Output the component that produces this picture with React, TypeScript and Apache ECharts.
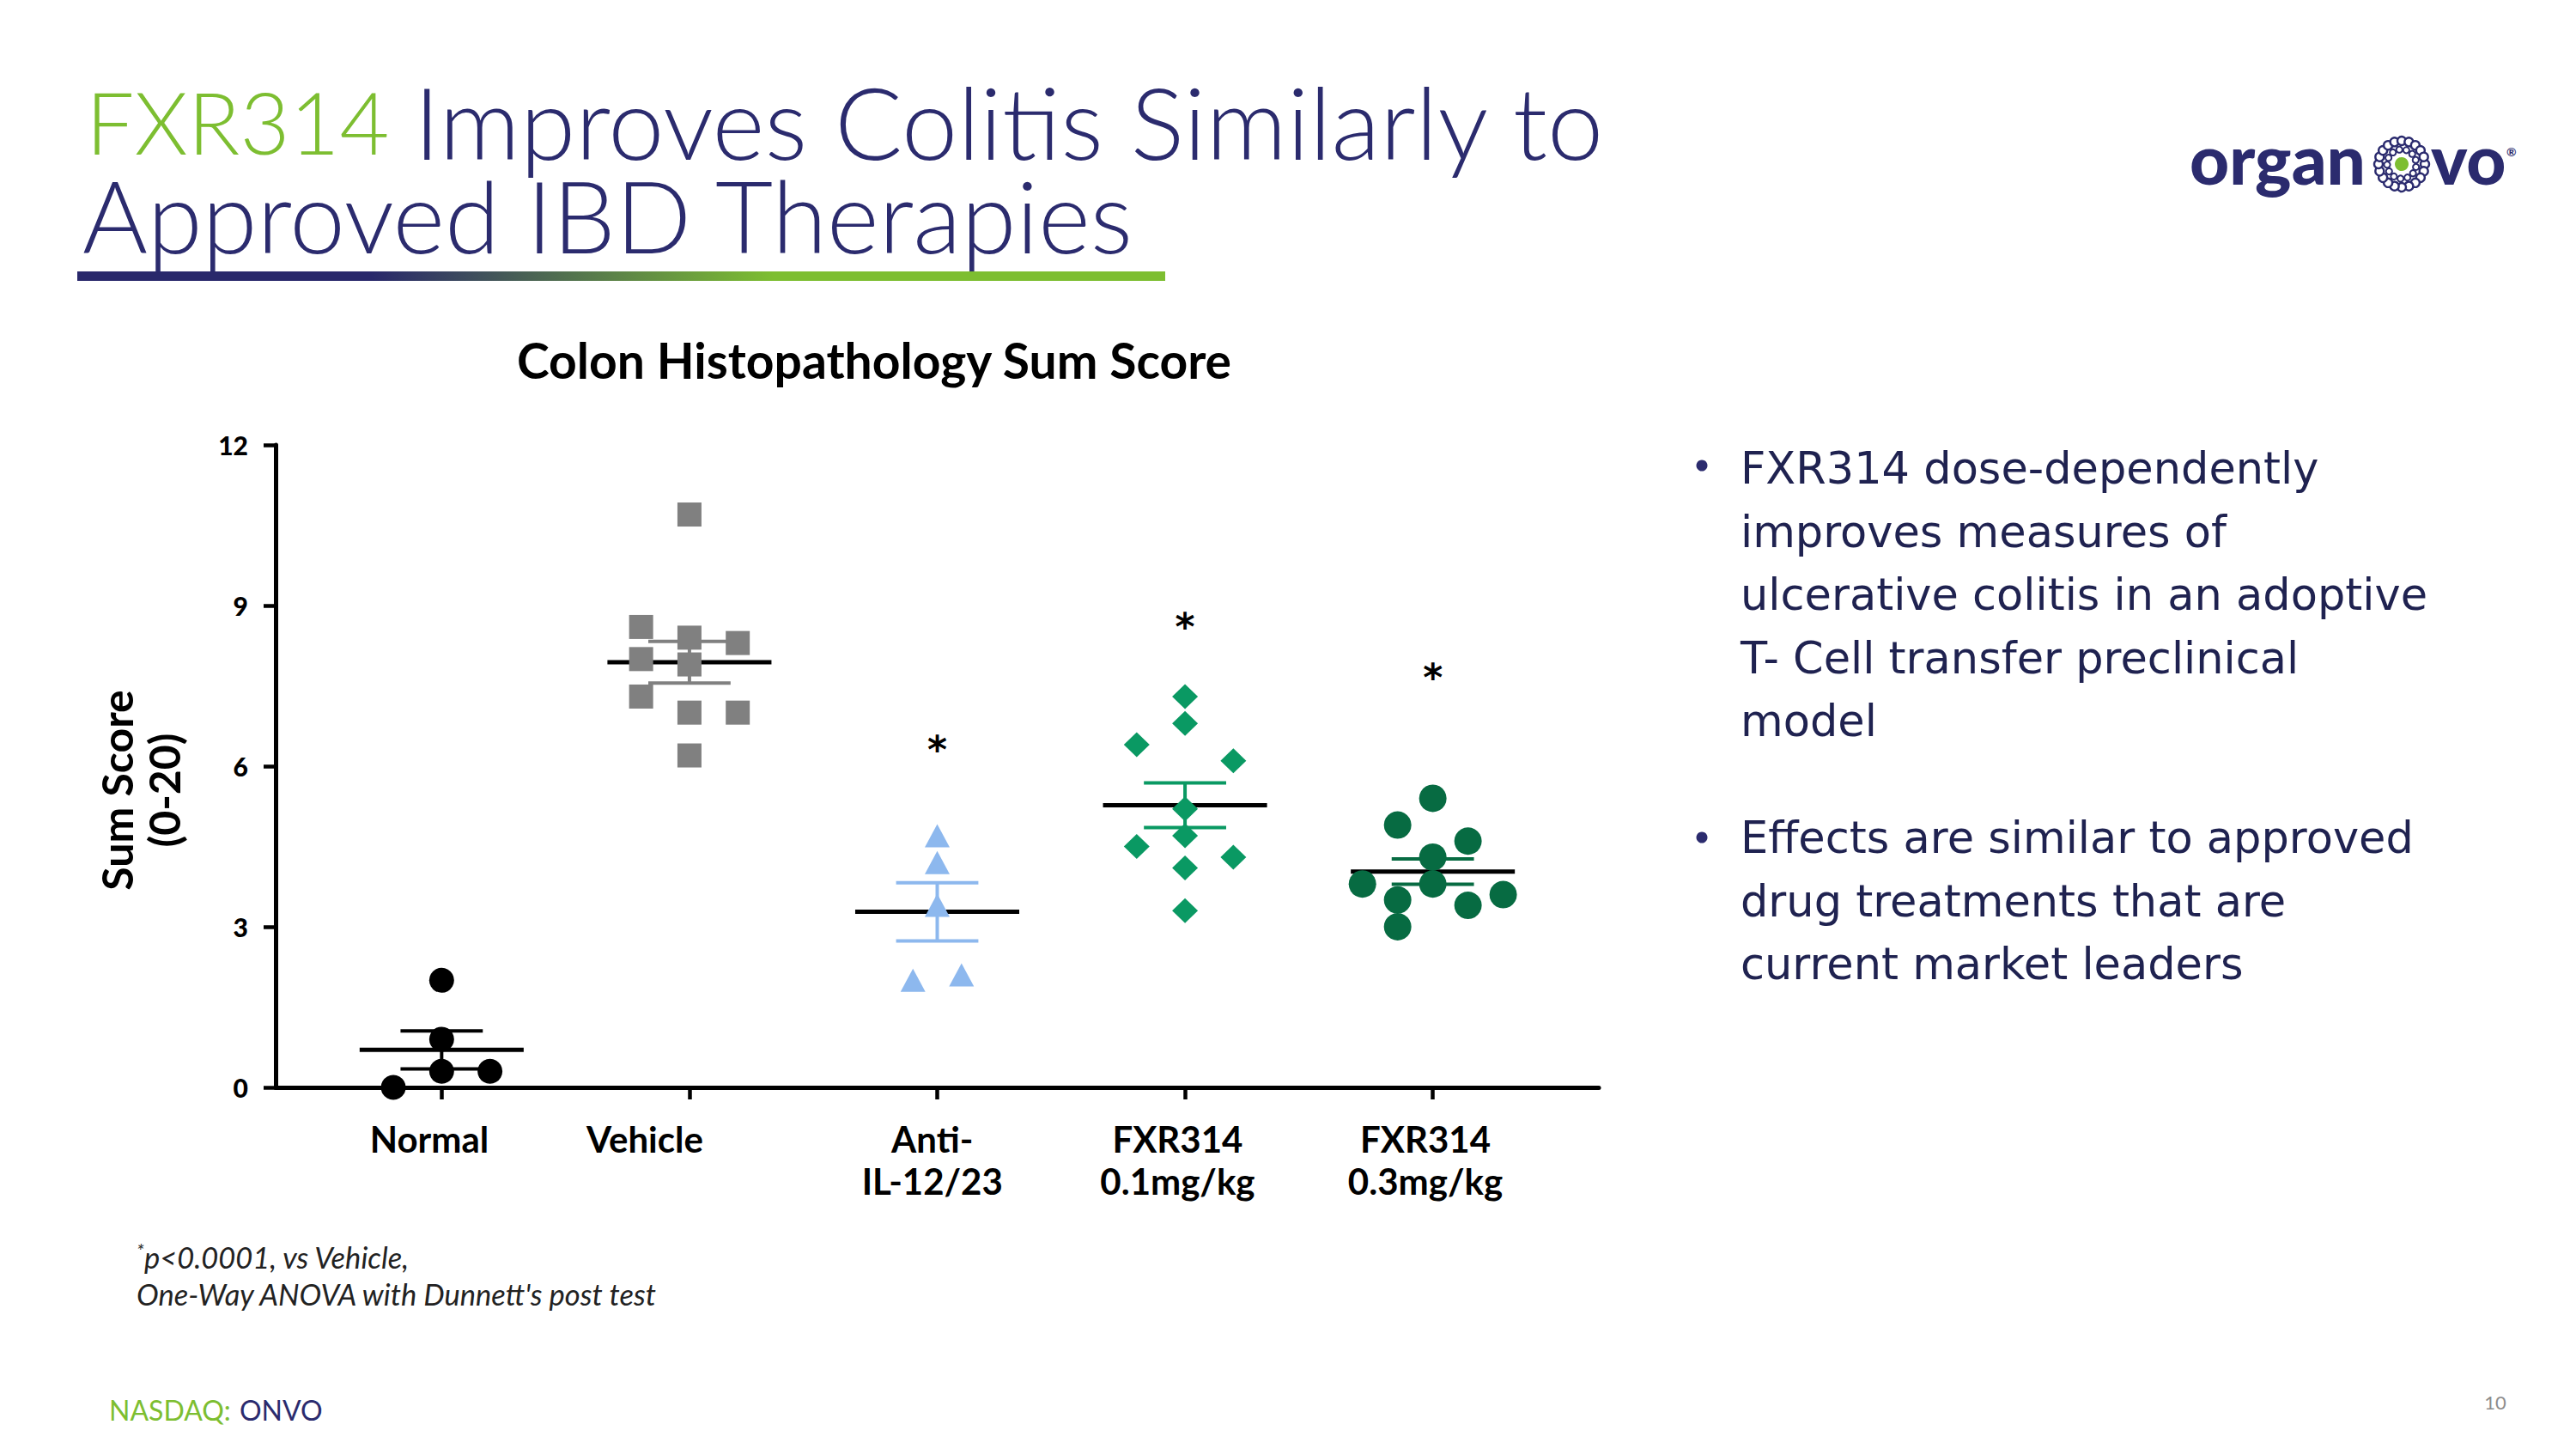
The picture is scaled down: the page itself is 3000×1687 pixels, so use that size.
import React, { useEffect, useRef } from "react";
import * as echarts from "echarts";

// ---------------- data ----------------
const categories = ["Normal", "Vehicle", "Anti-\nIL-12/23", "FXR314\n0.1mg/kg", "FXR314\n0.3mg/kg"];
const normalScores = [0, 0.3, 0.3, 0.9, 2.0];
const vehicleScores = [10.7, 8.6, 8.4, 8.3, 8.0, 7.9, 7.3, 7.0, 7.0, 6.2];
const antiIl1223Scores = [4.7, 4.2, 3.4, 2.0, 2.1];
const fxr314LowScores = [7.3, 6.8, 6.4, 6.1, 5.2, 4.7, 4.5, 4.3, 4.1, 3.3];
const fxr314HighScores = [5.4, 4.9, 4.6, 4.3, 3.8, 3.8, 3.6, 3.5, 3.4, 3.0];
const yTicks = [0, 3, 6, 9, 12];
const significanceMark = ["", "", "*", "*", "*"];
const significanceHeight = [0, 0, 6.45, 8.75, 7.8];

const titleGreen = "FXR314";
const titleLine1 = "Improves Colitis Similarly to";
const titleLine2 = "Approved IBD Therapies";
const chartTitle = "Colon Histopathology Sum Score";
const yAxisName = ["Sum Score", "(0-20)"];
const bulletOne = [
  "FXR314 dose-dependently",
  "improves measures of",
  "ulcerative colitis in an adoptive",
  "T- Cell transfer preclinical",
  "model",
];
const bulletTwo = ["Effects are similar to approved", "drug treatments that are", "current market leaders"];
const footnoteLines = ["p<0.0001, vs Vehicle,", "One-Way ANOVA with Dunnett's post test"];

// ---------------- layout / style ----------------
const W = 3000;
const H = 1687;
const NAVY = "#2B2B6E";
const TEXT_NAVY = "#1F2250";
const GREEN = "#7DBE31";
const FONT = "Lato";
const X_MIN = 0.33;
const X_MAX = 5.67;
const MEAN_HALF = 0.331;
const CAP_HALF = 0.166;
const LABEL_SHIFT = [-0.05, -0.18, -0.02, -0.03, -0.03];

const groups = [
  { values: normalScores, symbol: "circle", size: 29, color: "#000000", step: 0.195, slots: [-1, 0, 1, 0, 0] },
  { values: vehicleScores, symbol: "rect", size: 28, color: "#808080", step: 0.195, slots: [0, -1, 0, 1, -1, 0, -1, 0, 1, 0] },
  { values: antiIl1223Scores, symbol: "triangle", size: [29, 27], color: "#8DB8EE", step: 0.098, slots: [0, 0, 0, -1, 1] },
  { values: fxr314LowScores, symbol: "diamond", size: [30, 29], color: "#0A9963", step: 0.195, slots: [0, 0, -1, 1, 0, 0, -1, 1, 0, 0] },
  { values: fxr314HighScores, symbol: "circle", size: 32, color: "#076B42", step: 0.142, slots: [0, -1, 1, 0, -2, 0, 2, -1, 1, -1] },
];

const mean = (a: number[]) => a.reduce((s, v) => s + v, 0) / a.length;
const sem = (a: number[]) => {
  const m = mean(a);
  const v = a.reduce((s, x) => s + (x - m) * (x - m), 0) / (a.length - 1);
  return Math.sqrt(v / a.length);
};

function buildLogo(): any[] {
  const cx = 2797;
  const cy = 191;
  const kids: any[] = [];
  const outerN = 20;
  for (let i = 0; i < outerN; i++) {
    const a = (i / outerN) * Math.PI * 2;
    kids.push({
      type: "circle",
      shape: { cx: cx + Math.cos(a) * 27, cy: cy + Math.sin(a) * 27, r: 5 },
      style: { fill: "#fff", stroke: NAVY, lineWidth: 2.4 },
    });
  }
  const innerN = 13;
  for (let i = 0; i < innerN; i++) {
    const a = (i / innerN) * Math.PI * 2 + 0.2;
    kids.push({
      type: "circle",
      shape: { cx: cx + Math.cos(a) * 17, cy: cy + Math.sin(a) * 17, r: 3.6 },
      style: { fill: "#fff", stroke: NAVY, lineWidth: 2 },
    });
  }
  kids.push({ type: "circle", shape: { cx, cy, r: 8 }, style: { fill: GREEN } });
  kids.push({
    type: "text",
    x: 2550,
    y: 184,
    style: { text: "organ", font: `900 80px ${FONT}`, fill: NAVY, align: "left", verticalAlign: "middle" },
  });
  kids.push({
    type: "text",
    x: 2831,
    y: 184,
    style: { text: "vo", font: `900 80px ${FONT}`, fill: NAVY, align: "left", verticalAlign: "middle" },
  });
  kids.push({
    type: "text",
    x: 2919,
    y: 176,
    style: { text: "®", font: `bold 14px ${FONT}`, fill: NAVY, align: "left", verticalAlign: "middle" },
  });
  return kids;
}

function buildOption(): any {
  const scatterSeries = groups.map((g, gi) => ({
    type: "scatter",
    name: categories[gi],
    z: 5,
    clip: false,
    symbol: g.symbol,
    symbolSize: g.size,
    itemStyle: { color: g.color, opacity: 1 },
    data: g.values.map((v, i) => [gi + 1 + g.slots[i] * g.step, v]),
  }));

  const statsSeries = {
    type: "custom",
    z: 3,
    clip: false,
    encode: { x: 0, y: 1 },
    data: groups.map((g, gi) => [gi + 1, mean(g.values), sem(g.values)]),
    renderItem: (params: any, api: any) => {
      const gx = api.value(0);
      const m = api.value(1);
      const s = api.value(2);
      const color = groups[params.dataIndex].color;
      const mL = api.coord([gx - MEAN_HALF, m]);
      const mR = api.coord([gx + MEAN_HALF, m]);
      const tL = api.coord([gx - CAP_HALF, m + s]);
      const tR = api.coord([gx + CAP_HALF, m + s]);
      const bL = api.coord([gx - CAP_HALF, m - s]);
      const bR = api.coord([gx + CAP_HALF, m - s]);
      const c = api.coord([gx, m]);
      return {
        type: "group",
        children: [
          { type: "line", shape: { x1: c[0], y1: tL[1], x2: c[0], y2: bL[1] }, style: { stroke: color, lineWidth: 4 } },
          { type: "line", shape: { x1: tL[0], y1: tL[1], x2: tR[0], y2: tR[1] }, style: { stroke: color, lineWidth: 4 } },
          { type: "line", shape: { x1: bL[0], y1: bL[1], x2: bR[0], y2: bR[1] }, style: { stroke: color, lineWidth: 4 } },
          { type: "line", shape: { x1: mL[0], y1: mL[1], x2: mR[0], y2: mR[1] }, style: { stroke: "#000", lineWidth: 5 } },
        ],
      };
    },
  };

  const starData = significanceMark
    .map((t, i) => (t ? [i + 1, significanceHeight[i], t] : null))
    .filter((d) => d) as any[];
  const starSeries = {
    type: "custom",
    z: 6,
    clip: false,
    encode: { x: 0, y: 1 },
    data: starData,
    renderItem: (params: any, api: any) => {
      const p = api.coord([api.value(0), api.value(1)]);
      return {
        type: "text",
        x: p[0],
        y: p[1] + 9,
        style: {
          text: starData[params.dataIndex][2],
          font: `bold 44px 'DejaVu Sans'`,
          fill: "#000",
          align: "center",
          verticalAlign: "middle",
        },
      };
    },
  };

  const bulletText = (lines: string[], y: number) => ({
    type: "text",
    x: 2027,
    y,
    style: {
      text: lines.join("\n"),
      font: `400 51px 'DejaVu Sans'`,
      lineHeight: 73.5,
      fill: TEXT_NAVY,
      align: "left",
      verticalAlign: "top",
    },
  });

  return {
    animation: false,
    backgroundColor: "#ffffff",
    title: {
      text: chartTitle,
      left: 1018,
      top: 390,
      textAlign: "center",
      padding: 0,
      textStyle: { fontFamily: FONT, fontWeight: "bold", fontSize: 57, lineHeight: 57, color: "#000" },
    },
    grid: { left: 321, top: 518, right: 1138, bottom: 421, containLabel: false },
    xAxis: {
      type: "value",
      min: X_MIN,
      max: X_MAX,
      splitLine: { show: false },
      axisLine: { show: true, onZero: false, lineStyle: { color: "#000", width: 5 } },
      axisTick: { show: true, customValues: [1, 2, 3, 4, 5], length: 14, lineStyle: { color: "#000", width: 4.5 } },
      axisLabel: {
        show: true,
        customValues: categories.map((_, i) => i + 1 + LABEL_SHIFT[i]),
        formatter: (v: number) => categories[Math.round(v) - 1] ?? "",
        margin: 35,
        color: "#000",
        fontFamily: FONT,
        fontWeight: "bold",
        fontSize: 42,
        lineHeight: 49,
        align: "center",
      },
    },
    yAxis: {
      type: "value",
      min: yTicks[0],
      max: yTicks[yTicks.length - 1],
      interval: yTicks[1] - yTicks[0],
      splitLine: { show: false },
      axisLine: { show: true, onZero: false, lineStyle: { color: "#000", width: 5 } },
      axisTick: { show: true, length: 14, lineStyle: { color: "#000", width: 4.5 } },
      axisLabel: { color: "#000", fontFamily: FONT, fontWeight: 900, fontSize: 30, margin: 32 },
    },
    graphic: [
      {
        type: "text",
        x: 100,
        y: 141,
        style: {
          text: titleGreen,
          font: `300 100px ${FONT}`,
          lineHeight: 96,
          fill: GREEN,
          align: "left",
          verticalAlign: "middle",
        },
      },
      {
        type: "text",
        x: 482,
        y: 141,
        style: {
          text: titleLine1,
          font: `300 117px ${FONT}`,
          lineHeight: 100,
          fill: NAVY,
          align: "left",
          verticalAlign: "middle",
        },
      },
      {
        type: "text",
        x: 96,
        y: 250,
        style: {
          text: titleLine2,
          font: `300 116px ${FONT}`,
          lineHeight: 100,
          fill: NAVY,
          align: "left",
          verticalAlign: "middle",
        },
      },
      {
        type: "rect",
        shape: { x: 90, y: 316, width: 1267, height: 11 },
        style: {
          fill: new echarts.graphic.LinearGradient(0, 0, 1, 0, [
            { offset: 0, color: "#29286B" },
            { offset: 0.27, color: "#29286B" },
            { offset: 0.64, color: GREEN },
            { offset: 1, color: GREEN },
          ]),
        },
      },
      {
        type: "text",
        x: 163,
        y: 920,
        rotation: Math.PI / 2,
        style: {
          text: yAxisName.join("\n"),
          font: `bold 50px ${FONT}`,
          lineHeight: 55,
          fill: "#000",
          align: "center",
          verticalAlign: "middle",
        },
      },
      { type: "circle", shape: { cx: 1982, cy: 542, r: 6.5 }, style: { fill: NAVY } },
      bulletText(bulletOne, 509),
      { type: "circle", shape: { cx: 1982, cy: 975, r: 6.5 }, style: { fill: NAVY } },
      bulletText(bulletTwo, 939),
      {
        type: "text",
        x: 159,
        y: 1455,
        style: { text: "*", font: `italic 22px ${FONT}`, fill: "#222", align: "left", verticalAlign: "middle" },
      },
      {
        type: "text",
        x: 168,
        y: 1463,
        style: { text: footnoteLines[0], font: `italic 34.5px ${FONT}`, fill: "#222", align: "left", verticalAlign: "middle" },
      },
      {
        type: "text",
        x: 159,
        y: 1506,
        style: { text: footnoteLines[1], font: `italic 34.5px ${FONT}`, fill: "#222", align: "left", verticalAlign: "middle" },
      },
      {
        type: "text",
        x: 127,
        y: 1641,
        style: { text: "NASDAQ:", font: `400 32px ${FONT}`, fill: GREEN, align: "left", verticalAlign: "middle" },
      },
      {
        type: "text",
        x: 279,
        y: 1641,
        style: { text: "ONVO", font: `400 32px ${FONT}`, fill: NAVY, align: "left", verticalAlign: "middle" },
      },
      {
        type: "text",
        x: 2906,
        y: 1632,
        style: { text: "10", font: `400 22px ${FONT}`, fill: "#8C8C8C", align: "center", verticalAlign: "middle" },
      },
      { type: "group", children: buildLogo() },
    ],
    series: [statsSeries, ...scatterSeries, starSeries],
  };
}

export default function App() {
  const ref = useRef<HTMLDivElement>(null);
  useEffect(() => {
    document.body.style.margin = "0";
    if (!ref.current) return;
    const chart = echarts.init(ref.current, undefined, { renderer: "svg" });
    chart.setOption(buildOption());
    return () => chart.dispose();
  }, []);
  return <div ref={ref} style={{ width: W, height: H, background: "#fff" }} />;
}
